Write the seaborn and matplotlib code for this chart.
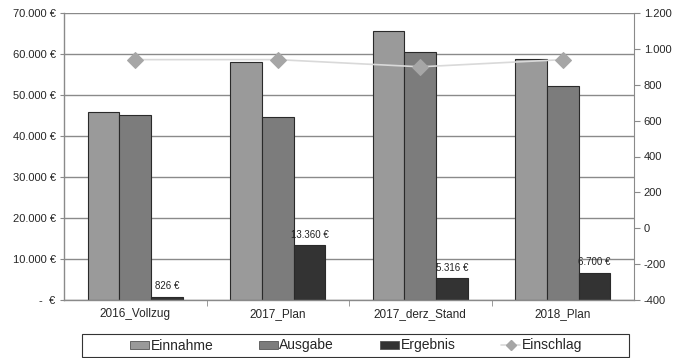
import matplotlib
matplotlib.use("Agg")
import matplotlib.pyplot as plt
from matplotlib.patches import Rectangle, Patch
from matplotlib.lines import Line2D
from matplotlib.ticker import FuncFormatter, MultipleLocator, FixedLocator
import numpy as np
import pandas as pd
import seaborn as sns

# Haushaltsjahre
kategorien = ["2016_Vollzug", "2017_Plan", "2017_derz_Stand", "2018_Plan"]

# Beträge in Euro (linke Achse)
einnahme = [45950, 58000, 65700, 58800]
ausgabe = [45124, 44640, 60384, 52100]
ergebnis = [826, 13360, 5316, 6700]

# Einschlag (rechte Achse)
einschlag = [940, 940, 900, 940]

serien = ["Einnahme", "Ausgabe", "Ergebnis"]
farben = ["#9a9a9a", "#7c7c7c", "#333333"]

df = pd.DataFrame({
    "Jahr": kategorien * 3,
    "Serie": [s for s in serien for _ in kategorien],
    "Betrag": einnahme + ausgabe + ergebnis,
})

sns.set_style("white")
plt.rcParams["font.family"] = ["Liberation Sans", "DejaVu Sans"]

fig = plt.figure(figsize=(6.73, 3.58), dpi=100)
ax = fig.add_axes([64 / 673, 1 - 300 / 358, 570 / 673, 287 / 358])

sns.barplot(data=df, x="Jahr", y="Betrag", hue="Serie", hue_order=serien,
            palette=farben, width=0.667, edgecolor="#2a2a2a", linewidth=0.8,
            saturation=1, ax=ax, legend=False)

grau = "#8a8a8a"
ax.set_ylim(0, 70000)
ax.set_xlim(-0.5, 3.5)
ax.yaxis.set_major_locator(MultipleLocator(10000))
ax.yaxis.set_major_formatter(FuncFormatter(
    lambda v, p: "-  €" if v == 0 else f"{v:,.0f} €".replace(",", ".")))
ax.set_axisbelow(True)
ax.yaxis.grid(True, color=grau, lw=1)
ax.set_xlabel("")
ax.set_ylabel("")
for s in ["top", "right"]:
    ax.spines[s].set_visible(False)
for s in ["left", "bottom"]:
    ax.spines[s].set_color(grau)
    ax.spines[s].set_linewidth(1)
ax.tick_params(axis="y", which="major", length=3, color=grau, labelsize=8,
               pad=3, left=True)
ax.tick_params(axis="x", which="major", length=0, labelsize=8.5, pad=6)
ax.xaxis.set_minor_locator(FixedLocator([0.5, 1.5, 2.5]))
ax.tick_params(axis="x", which="minor", length=4, color=grau, bottom=True)

# Werte über den Ergebnis-Balken
ax.bar_label(ax.containers[2],
             labels=[f"{v:,.0f} €".replace(",", ".") for v in ergebnis],
             padding=4, fontsize=7, color="#222222")

# Einschlag auf der Sekundärachse
linienfarbe = "#d9d9d9"
markerfarbe = "#a6a6a6"
ax2 = ax.twinx()
sns.lineplot(x=np.arange(len(kategorien)), y=einschlag, ax=ax2,
             color=linienfarbe, lw=1.2, marker="D", markersize=8,
             markerfacecolor=markerfarbe, markeredgecolor=markerfarbe)
ax2.set_ylim(-400, 1200)
ax2.yaxis.set_major_locator(MultipleLocator(200))
ax2.yaxis.set_major_formatter(FuncFormatter(
    lambda v, p: f"{v:,.0f}".replace(",", ".")))
ax2.tick_params(axis="y", length=4, color=grau, labelsize=8, pad=3, right=True)
for s in ["top", "left", "bottom"]:
    ax2.spines[s].set_visible(False)
ax2.spines["right"].set_color(grau)
ax2.set_xlim(-0.5, 3.5)

# Legende mit Rahmen
fig.patches.append(Rectangle((82 / 673, 1 - 357 / 358), 547 / 673, 23.5 / 358,
                             transform=fig.transFigure, fill=False,
                             edgecolor="#333333", lw=0.8))
handles = [Patch(facecolor=f, edgecolor="#555555", lw=0.6) for f in farben]
handles.append(Line2D([], [], color=linienfarbe, lw=1.2, marker="D",
                      markersize=5, markerfacecolor=markerfarbe,
                      markeredgecolor=markerfarbe))
fig.legend(handles, serien + ["Einschlag"], loc="center",
           bbox_to_anchor=(356 / 673, 1 - 345.5 / 358), ncol=4, frameon=False,
           fontsize=10, handlelength=1.37, handleheight=0.5,
           handletextpad=0.1, columnspacing=3.3)

fig.savefig("out.png", dpi=100, facecolor="white")
